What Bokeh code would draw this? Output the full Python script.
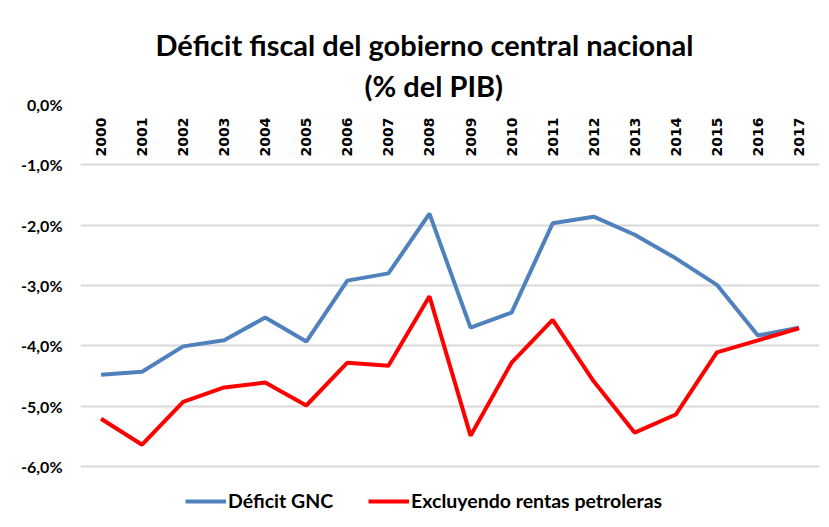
import math
from bokeh.plotting import figure
from bokeh.models import (Range1d, FixedTicker, CustomJSTickFormatter, Legend, LegendItem,
                          Title, ColumnDataSource, Label)
from bokeh.core.properties import value
from bokeh.embed import file_html
from bokeh.resources import INLINE

years = list(range(2000, 2018))
year_labels = [str(y) for y in years]
deficit_gnc = [-4.48, -4.43, -4.01, -3.91, -3.53, -3.93, -2.92, -2.80, -1.81, -3.70,
               -3.45, -1.97, -1.86, -2.16, -2.55, -2.99, -3.83, -3.70]
excl_petro = [-5.21, -5.64, -4.93, -4.69, -4.61, -4.99, -4.28, -4.33, -3.18, -5.49,
              -4.28, -3.57, -4.59, -5.44, -5.14, -4.11, -3.91, -3.71]
y_ticks = [0, -1, -2, -3, -4, -5, -6]
title_line1 = "Déficit fiscal del gobierno central nacional"
title_line2 = "(% del PIB)"
series_names = ["Déficit GNC", "Excluyendo rentas petroleras"]

p = figure(width=821, height=519, output_backend="svg", toolbar_location=None,
           x_range=Range1d(1999.5, 2017.5), y_range=Range1d(-6.88, 0),
           min_border_left=80, min_border_right=2, min_border_top=104, min_border_bottom=0)
p.outline_line_color = None
p.background_fill_color = "white"
p.border_fill_color = "white"

# outer chart border (only its left and top edges fall inside the picture);
# anchored at the chart-area corner just outside the plot frame
border = Label(x=1999.5, y=0, x_offset=-69, y_offset=93, text=" ",
               text_font_size="1px", anchor="top_left",
               padding=dict(left=0, right=1500, top=0, bottom=1500),
               border_line_color="black", border_line_width=1.5,
               background_fill_color=None)
p.add_layout(border)

# titles
t2 = Title(text=title_line2, align="left", offset=284, text_font="Lato",
           text_font_size="29px", text_font_style="bold", text_color="black",
           standoff=3)
t1 = Title(text=title_line1, align="left", offset=75, text_font="Lato",
           text_font_size="29px", text_font_style="bold", text_color="black",
           standoff=5)
p.add_layout(t2, "above")
p.add_layout(t1, "above")

# axes
p.xaxis.visible = False
p.xgrid.visible = False
p.yaxis.ticker = FixedTicker(ticks=y_ticks)
p.yaxis.formatter = CustomJSTickFormatter(code="return tick.toFixed(1).replace('.', ',') + '%';")
p.yaxis.axis_line_color = None
p.yaxis.major_tick_line_color = None
p.yaxis.minor_tick_line_color = None
p.yaxis.major_tick_in = 0
p.yaxis.major_tick_out = 0
p.yaxis.major_label_standoff = 18
p.yaxis.major_label_text_font = "Lato"
p.yaxis.major_label_text_font_size = "16px"
p.yaxis.major_label_text_font_style = "bold"
p.yaxis.major_label_text_color = "black"
p.ygrid.ticker = FixedTicker(ticks=y_ticks)
p.ygrid.grid_line_color = "#d9d9d9"
p.ygrid.grid_line_width = 2

src = ColumnDataSource(dict(x=years, lab=year_labels, y=[0] * len(years),
                            a=deficit_gnc, b=excl_petro))

p.text(x="x", y="y", text="lab", source=src, angle=math.pi / 2,
       text_align="right", text_baseline="middle", y_offset=13,
       text_font=value("DejaVu Sans"), text_font_size="14px",
       text_font_style="bold", text_color="black")

r1 = p.line("x", "a", source=src, line_color="#4f81bd", line_width=4)
r2 = p.line("x", "b", source=src, line_color="#ff0000", line_width=4)

legend = Legend(items=[LegendItem(label=series_names[0], renderers=[r1]),
                       LegendItem(label=series_names[1], renderers=[r2])],
                orientation="horizontal", location=(105, 7),
                border_line_color=None, background_fill_alpha=0,
                label_text_font="Lato", label_text_font_size="19.5px",
                label_text_font_style="bold", label_text_color="black",
                glyph_width=41, glyph_height=20, label_standoff=2, spacing=35,
                padding=0, margin=0)
p.add_layout(legend)

open("out.html", "w").write(file_html(p, INLINE))
